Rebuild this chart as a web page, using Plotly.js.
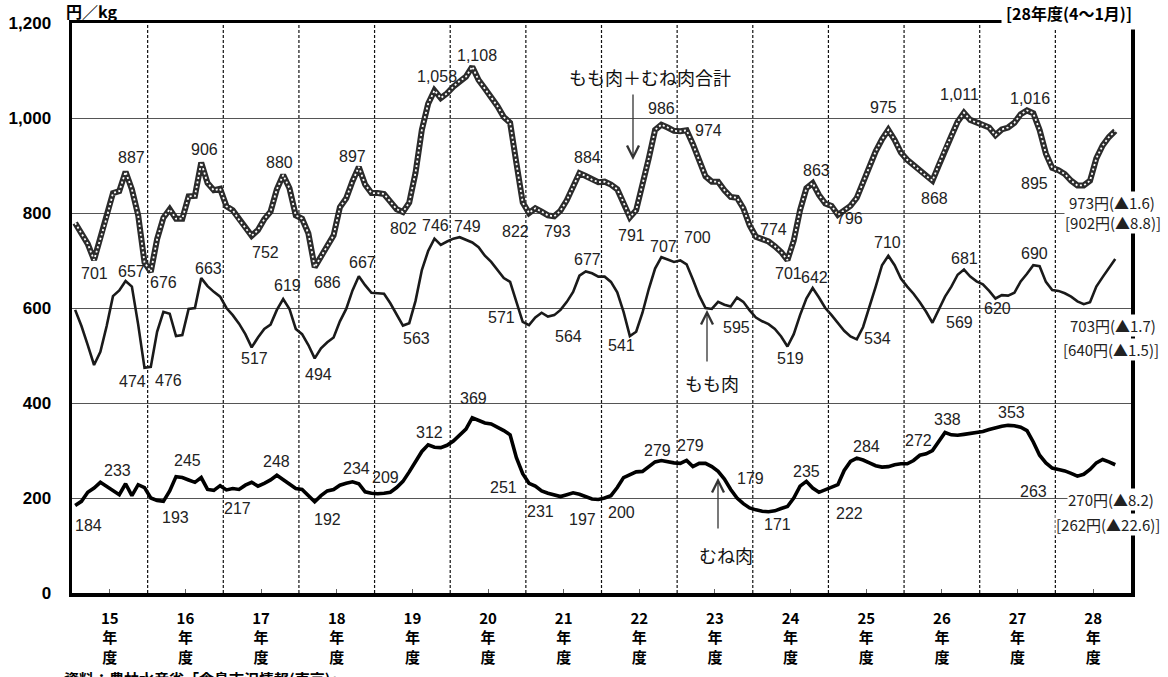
<!DOCTYPE html>
<html><head><meta charset="utf-8">
<script src="https://cdn.plot.ly/plotly-3.0.1.min.js"></script>
<style>html,body{margin:0;padding:0;background:#fff}#chart{width:1168px;height:677px}</style>
</head><body><div id="chart"></div>
<script>
// ---- data (monthly, FY15 April ... FY28 January), 円/kg ----
const yearLabels = ['15','16','17','18','19','20','21','22','23','24','25','26','27','28'];

const totalPrice = [
 779,758,735,701,745,790,842,846,887,850,795,696,
 676,745,790,808,788,788,835,836,906,863,848,851,
 814,806,786,770,752,764,787,803,850,880,852,795,
 788,757,686,708,730,753,812,831,867,897,860,842,
 842,840,824,808,802,822,885,975,1030,1058,1042,1052,
 1066,1078,1087,1108,1080,1062,1045,1025,1002,990,905,822,
 800,810,803,795,793,805,827,857,884,878,870,865,
 866,860,850,822,791,806,858,915,975,986,980,973,
 972,974,945,910,877,866,866,848,834,832,810,774,
 750,745,740,730,718,701,742,806,852,863,838,820,
 815,796,805,815,832,866,900,930,955,975,954,927,
 912,900,890,878,868,900,935,962,992,1011,996,990,
 986,980,964,976,980,990,1008,1016,1010,975,925,895,
 890,882,868,858,858,868,915,942,960,973
];
const thighPrice = [
 596,562,522,480,508,562,625,637,657,645,565,474,
 476,550,592,588,541,543,598,600,663,646,634,624,
 600,585,567,545,517,538,556,565,596,619,598,556,
 545,522,494,515,528,538,572,598,637,667,648,632,
 631,630,610,585,563,568,615,680,720,746,733,740,
 746,749,744,738,728,710,697,680,663,655,615,571,
 564,580,590,582,585,596,613,634,668,677,673,666,
 666,655,633,592,541,550,590,640,683,707,702,697,
 700,692,660,626,600,598,613,607,603,622,613,595,
 580,572,566,556,540,519,545,585,620,642,622,600,
 585,568,552,540,534,560,600,645,690,710,690,662,
 645,630,612,592,569,597,624,645,670,681,666,656,
 650,636,620,627,626,632,656,672,690,688,655,638,
 636,631,624,614,608,612,645,665,685,703
];
const breastPrice = [
 184,193,212,221,233,224,216,207,230,205,228,222,
 200,195,193,215,245,243,238,233,243,218,216,226,
 217,220,218,227,233,225,231,238,248,238,230,220,
 218,206,192,205,215,218,227,231,234,230,213,210,
 209,210,212,222,235,255,275,298,312,307,306,311,
 320,332,345,369,363,358,356,350,342,333,285,251,
 231,225,215,210,207,203,207,211,208,202,198,197,
 200,205,222,243,250,255,256,265,276,279,276,274,
 273,279,266,273,273,266,256,240,218,200,188,179,
 175,172,171,173,178,182,200,225,235,221,212,218,
 222,228,258,277,284,280,274,268,265,266,270,272,
 272,279,290,293,300,318,338,333,332,334,336,337,
 340,344,348,351,353,352,349,342,318,290,274,263,
 260,257,252,246,250,260,274,281,276,270
];
const latestChange = [1.6, 1.7, 8.2];      // 前年同月比 (▲)
const prevYearAvg = [902, 640, 262];       // [ ] 内の値
const prevYearChange = [8.8, 1.5, 22.6];

// ---- label placements (month index, dx px, dy px) ----
const totalSpots = [[3,0,13],[8,6,-14],[12,13,11],[20,3,-13],[28,14,17],[33,-4,-13],[38,13,15],[45,-6,-10],[52,1,16],[57,3,-14],[63,5,-11],[71,-7,29],[76,3,15],[80,8,-16],[88,2,18],[93,0,-16],[97,22,0],[107,24,4],[113,1,13],[117,4,-13],[121,12,4],[129,-5,-22],[136,2,18],[141,-4,-18],[151,3,-12],[155,-18,16]];
const thighSpots = [[8,6,-9],[11,-12,14],[12,18,14],[20,7,-10],[28,3,11],[33,4,-13],[38,4,16],[45,4,-14],[52,14,13],[57,1,-13],[61,8,-11],[71,-21,-4],[72,39,11],[81,2,-12],[88,-8,9],[93,2,-11],[96,17,-23],[107,-13,17],[113,3,12],[117,2,-11],[124,21,-1],[129,-1,-13],[136,27,0],[141,1,-11],[146,2,10],[152,1,-12]];
const breastSpots = [[0,13,20],[4,17,-12],[14,12,16],[16,11,-16],[24,11,19],[32,0,-14],[38,13,18],[44,4,-13],[48,8,-16],[56,1,-12],[63,1,-19],[71,-19,14],[72,11,28],[83,-16,20],[84,17,14],[93,-4,-10],[97,4,-15],[107,1,-29],[110,9,13],[116,0,-10],[120,18,26],[124,10,-12],[132,11,-23],[138,2,-13],[148,3,-13],[155,-19,23]];

// ---- geometry helpers (plot box in px) ----
const PL = 72, PT = 23, PW = 1059, PH = 570;
const px2x = p => (p - PL) / PW;
const py2y = p => (PT + PH - p) / PH;

const FONT = "'Liberation Sans', 'Noto Sans CJK JP', sans-serif";
const JFONT = "'Noto Sans CJK JP', 'Liberation Sans', sans-serif";
const idx = a => a.map((_, i) => i);

const traces = [
  {x: idx(totalPrice), y: totalPrice, mode: 'lines', line: {color: '#2b2b2b', width: 6}, hoverinfo: 'skip'},
  {x: idx(totalPrice), y: totalPrice, mode: 'lines', line: {color: '#ffffff', width: 1.8, dash: '2px,2.5px'}, hoverinfo: 'skip'},
  {x: idx(thighPrice), y: thighPrice, mode: 'lines', line: {color: '#1a1a1a', width: 2.6}, hoverinfo: 'skip'},
  {x: idx(breastPrice), y: breastPrice, mode: 'lines', line: {color: '#000000', width: 3.6}, hoverinfo: 'skip'}
];

const annotations = [];
function addLabels(arr, spots) {
  spots.forEach(([i, dx, dy]) => {
    annotations.push({x: i, y: arr[i], xref: 'x', yref: 'y', text: arr[i].toLocaleString('en-US'),
      showarrow: false, xanchor: 'center', yanchor: 'middle', xshift: dx, yshift: -dy,
      font: {family: FONT, size: 16, color: '#222'}});
  });
}
addLabels(totalPrice, totalSpots);
addLabels(thighPrice, thighSpots);
addLabels(breastPrice, breastSpots);

// right-side latest values (bracketed previous-year values first, so the latest values sit on top)
const lastOf = a => a[a.length - 1];
const rightTexts = [
  ['[' + prevYearAvg[0] + '円(▲' + prevYearChange[0] + ')]', 1064, 222],
  ['[' + prevYearAvg[1] + '円(▲' + prevYearChange[1] + ')]', 1062, 349],
  ['[' + prevYearAvg[2] + '円(▲' + prevYearChange[2] + ')]', 1055, 524],
  [lastOf(totalPrice) + '円(▲' + latestChange[0] + ')', 1068, 202],
  [lastOf(thighPrice) + '円(▲' + latestChange[1] + ')', 1069, 325],
  [lastOf(breastPrice) + '円(▲' + latestChange[2] + ')', 1067, 500]
];
rightTexts.forEach(([t, px, py]) => annotations.push({xref: 'paper', yref: 'paper', x: px2x(px), y: py2y(py),
  text: t, showarrow: false, xanchor: 'left', yanchor: 'middle', bgcolor: '#ffffff', borderpad: 0,
  font: {family: JFONT, size: 15, color: '#222'}}));

// series names with arrows
function note(text, px, py, size, extra) {
  annotations.push(Object.assign({xref: 'paper', yref: 'paper', x: px2x(px), y: py2y(py), text: text,
    showarrow: false, xanchor: 'center', yanchor: 'middle', font: {family: JFONT, size: size, color: '#111'}}, extra || {}));
}
note('もも肉＋むね肉合計', 650, 77, 18);
note('もも肉', 712, 383, 18);
note('むね肉', 726, 555, 18);
[[633, 160, -67], [707, 310, 53], [718, 478, 52]].forEach(([px, py, ay]) => annotations.push({
  xref: 'paper', yref: 'paper', x: px2x(px), y: py2y(py), text: '', showarrow: true, ax: 0, ay: ay,
  arrowhead: 5, arrowsize: 1.8, arrowwidth: 1.3, arrowcolor: '#333'}));

// header / footer texts
note('<b>円／kg</b>', 91, 11, 16, {font: {family: JFONT, size: 16, color: '#000'}});
note('<b>[28年度(4～1月)]</b>', 1069, 13, 16, {bgcolor: '#ffffff', borderpad: 4, font: {family: JFONT, size: 16, color: '#000'}});
note('<b>資料：農林水産省「食鳥市況情報(東京)」</b>', 62, 666, 15, {xanchor: 'left', yanchor: 'top', font: {family: JFONT, size: 15, color: '#000'}});

// fiscal-year boundaries
const shapes = yearLabels.slice(1).map((_, k) => ({type: 'line', xref: 'x', yref: 'paper',
  x0: (k + 1) * 12 - 0.5, x1: (k + 1) * 12 - 0.5, y0: 0, y1: 1, layer: 'below',
  line: {color: '#111', width: 1.2, dash: '3px,2px'}}));

const layout = {
  width: 1168, height: 677,
  margin: {l: PL, r: 1168 - PL - PW, t: PT, b: 677 - PT - PH, pad: 0},
  paper_bgcolor: '#fff', plot_bgcolor: '#fff', showlegend: false,
  font: {family: FONT, color: '#000'},
  xaxis: {range: [-0.5, 167.5], showgrid: false, zeroline: false, showline: true, mirror: true,
    linecolor: '#000', linewidth: 3.5, tickmode: 'array',
    tickvals: yearLabels.map((_, k) => k * 12 + 5.5),
    ticktext: yearLabels.map(y => '<b>' + y + '</b><br><b>年</b><br><b>度</b>'),
    ticks: 'inside', ticklen: 4, tickwidth: 1, tickcolor: '#666', ticklabelstandoff: 9,
    tickfont: {family: JFONT, size: 15, color: '#000'}, fixedrange: true},
  yaxis: {range: [0, 1200], tickmode: 'linear', tick0: 0, dtick: 200, tickformat: ',d',
    showgrid: true, gridcolor: '#555', gridwidth: 1, zeroline: false, showline: true, mirror: true,
    linecolor: '#000', linewidth: 3.5, ticks: '', ticklabelstandoff: 14,
    tickfont: {family: FONT, size: 17, color: '#000', weight: 'bold'}, fixedrange: true},
  shapes: shapes,
  annotations: annotations
};

Plotly.newPlot('chart', traces, layout, {displayModeBar: false, staticPlot: true});
</script>
</body></html>
